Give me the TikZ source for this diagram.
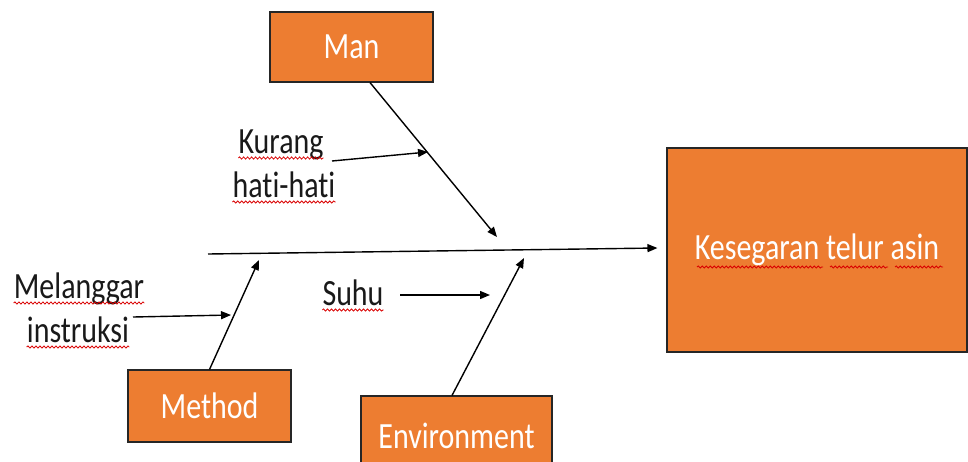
\documentclass[tikz,border=0pt]{standalone}
\usepackage{fontspec}
\setmainfont{Carlito}[FakeStretch=0.81,Ligatures=NoCommon]
\usetikzlibrary{arrows.meta,decorations.pathmorphing}
\definecolor{boxorange}{HTML}{ED7D31}
\begin{document}
\begin{tikzpicture}[x=1pt,y=-1pt,
  txt/.style={font=\fontsize{37}{44}\selectfont},
  cause/.style={draw=black!85,line width=1.1pt,fill=boxorange,text=white,inner sep=0pt,txt},
  lbl/.style={txt,text=black!90,inner sep=0pt},
  bone/.style={draw=black,line width=1.4pt,-{Triangle[length=10pt,width=8pt]}},
  squig/.style={draw=red!85!black,line width=0.8pt,decorate,
    decoration={snake,segment length=4pt,amplitude=1.1pt}}]
\useasboundingbox (0,0) rectangle (968,461);

% effect and cause boxes
\node[cause,minimum width=300pt,minimum height=204pt] (kes) at (817,250) {Kesegaran telur asin};
\node[cause,minimum width=163pt,minimum height=70pt] (man) at (351.5,47) {Man};
\node[cause,minimum width=163pt,minimum height=72pt] (method) at (209.5,406) {Method};
\node[cause,minimum width=191pt,minimum height=80pt] (env) at (456.5,436) {Environment};

% sub-cause labels
\node[lbl,anchor=base] (kurang) at (281,153) {Kurang};
\node[lbl,anchor=base] (hati) at (284,197) {hati-hati};
\node[lbl,anchor=base] (melanggar) at (79,298) {Melanggar};
\node[lbl,anchor=base] (instruksi) at (78,342) {instruksi};
\node[lbl,anchor=base] (suhu) at (353,305) {Suhu};

% spine and bones
\coordinate (sp0) at (208,254);
\coordinate (mantip) at (497,237);
\coordinate (methtip) at (259,260);
\coordinate (envtip) at (524,258);
\draw[bone] (sp0) -- ([xshift=-9pt,yshift=2pt]kes.west);
\draw[bone] ([xshift=18.5pt]man.south) -- (mantip);
\draw[bone] (method.north) -- (methtip);
\draw[bone] ([xshift=-4.5pt]env.north) -- (envtip);

% arrows from the sub-causes onto the bones
\coordinate (k0) at (332,161);
\coordinate (k1) at (428,152);
\coordinate (m0) at (133,317);
\coordinate (m1) at (231,315);
\coordinate (s0) at (400,295);
\coordinate (s1) at (490,295);
\draw[bone] (k0) -- (k1);
\draw[bone] (m0) -- (m1);
\draw[bone] (s0) -- (s1);

% spelling marks under the words
\foreach \w in {kurang,hati,melanggar,instruksi,suhu}{
  \draw[squig] ([yshift=-5pt]\w.base west) -- ([yshift=-5pt]\w.base east);
}
\draw[squig] (697,267) -- (823,267);
\draw[squig] (830,267) -- (888,267);
\draw[squig] (895,267) -- (943,267);
\end{tikzpicture}
\end{document}
